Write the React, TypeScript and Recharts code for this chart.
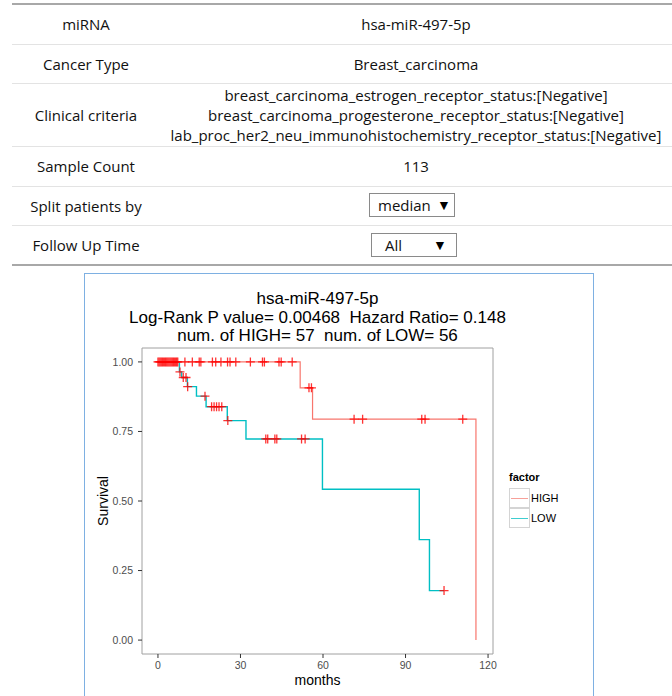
import React from "react";
import { ComposedChart, Line, Scatter, XAxis, YAxis, ReferenceArea } from "recharts";

// Kaplan-Meier step points (months, survival)
const HIGH_T = [0, 51.7, 56.2, 115.6];
const HIGH_S = [1, 0.907, 0.794, 0];
const LOW_T = [0, 7.8, 8.6, 10.7, 14.0, 17.5, 25.2, 32.0, 59.8, 95.0, 98.7, 104];
const LOW_S = [1, 0.964, 0.944, 0.911, 0.877, 0.839, 0.789, 0.723, 0.542, 0.361, 0.178, 0.178];

// censored patients (months)
const HIGH_CENSOR = [
  0, 0.4, 0.8, 1.2, 1.6, 2.0, 2.4, 2.8, 3.2, 3.6, 4.0, 4.4, 4.8, 5.2, 5.6, 6.0, 6.4, 6.8, 7.2,
  9.8, 12.5, 15.0, 15.6, 19.8, 21.0, 22.9, 25.3, 26.2, 28.3, 33.6, 38.0, 38.7, 44.0, 44.8, 48.8,
  54.9, 55.8, 71.3, 74.4, 95.9, 97.1, 110.8,
];
const LOW_CENSOR = [
  8.0, 9.2, 10.2, 10.8, 17.1, 19.5, 20.4, 21.3, 22.2, 23.2, 25.4, 39.2, 39.9, 42.5, 43.2, 52.2,
  53.5, 104,
];

const X_TICKS = [0, 30, 60, 90, 120];
const Y_TICKS = [0, 0.25, 0.5, 0.75, 1];

const TABLE_ROWS: { label: string; lines: string[]; height: number }[] = [
  { label: "miRNA", lines: ["hsa-miR-497-5p"], height: 40 },
  { label: "Cancer Type", lines: ["Breast_carcinoma"], height: 39 },
  {
    label: "Clinical criteria",
    lines: [
      "breast_carcinoma_estrogen_receptor_status:[Negative]",
      "breast_carcinoma_progesterone_receptor_status:[Negative]",
      "lab_proc_her2_neu_immunohistochemistry_receptor_status:[Negative]",
    ],
    height: 63,
  },
  { label: "Sample Count", lines: ["113"], height: 40 },
  { label: "Split patients by", lines: [], height: 39 },
  { label: "Follow Up Time", lines: [], height: 40 },
];

const HIGH_COLOR = "#F8766D";
const LOW_COLOR = "#00BFC4";

const stepLevel = (ts: number[], ss: number[], t: number) => {
  let s = ss[0];
  for (let i = 0; i < ts.length; i++) if (ts[i] <= t) s = ss[i];
  return s;
};

const highLine = HIGH_T.map((t, i) => ({ t, s: HIGH_S[i] }));
const lowLine = LOW_T.map((t, i) => ({ t, s: LOW_S[i] }));
const highMarks = HIGH_CENSOR.map((t) => ({ t, s: stepLevel(HIGH_T, HIGH_S, t) }));
const lowMarks = LOW_CENSOR.map((t) => ({ t, s: stepLevel(LOW_T, LOW_S, t) }));

const Plus = (props: any) => {
  const { cx, cy } = props;
  if (cx == null || cy == null) return null;
  return (
    <path
      d={`M${cx - 4.5},${cy}H${cx + 4.5}M${cx},${cy - 4.5}V${cy + 4.5}`}
      stroke="#ff0000"
      strokeOpacity={0.8}
      strokeWidth={1.3}
      fill="none"
    />
  );
};

const TABLE_FONT = "'Open Sans', sans-serif";
const PLOT_FONT = "'Liberation Sans', Arial, sans-serif";

const Dropdown = ({ left, top, text, textLeft, arrowLeft }: any) => (
  <div
    style={{
      position: "absolute",
      left,
      top,
      width: 86,
      height: 24,
      border: "1px solid #8a8a8a",
      background: "#fff",
      boxSizing: "border-box",
      fontSize: 15,
      lineHeight: "22px",
    }}
  >
    <span style={{ position: "absolute", left: textLeft }}>{text}</span>
    <span style={{ position: "absolute", left: arrowLeft, fontSize: 14, color: "#000" }}>▼</span>
  </div>
);

export default function App() {
  let y = 4;
  const rows = TABLE_ROWS.map((r) => {
    const top = y;
    y += r.height;
    return { ...r, top };
  });

  return (
    <div style={{ position: "relative", width: 672, height: 696, overflow: "hidden", background: "#fff" }}>
      <style>{"body{margin:0}"}</style>

      {/* info table */}
      <div style={{ position: "absolute", left: 12, top: 3, width: 660, height: 2, background: "#a8a8a8" }} />
      {rows.map((r, i) => (
        <div key={r.label} style={{ fontFamily: TABLE_FONT, color: "#111" }}>
          {i > 0 && (
            <div style={{ position: "absolute", left: 12, top: r.top, width: 660, height: 1, background: "#e3e3e3" }} />
          )}
          <div
            style={{
              position: "absolute",
              left: 12,
              top: r.top,
              width: 148,
              height: r.height,
              display: "flex",
              alignItems: "center",
              justifyContent: "center",
              fontSize: 15,
              whiteSpace: "nowrap",
            }}
          >
            {r.label}
          </div>
          <div
            style={{
              position: "absolute",
              left: 160,
              top: r.top,
              width: 512,
              height: r.height,
              display: "flex",
              flexDirection: "column",
              alignItems: "center",
              justifyContent: "center",
              fontSize: 15,
              lineHeight: "20px",
              whiteSpace: "nowrap",
            }}
          >
            {r.lines.map((l) => (
              <div key={l}>{l}</div>
            ))}
          </div>
        </div>
      ))}
      <div style={{ fontFamily: TABLE_FONT, color: "#111" }}>
        <Dropdown left={369} top={193} text="median" textLeft={8} arrowLeft={67} />
        <Dropdown left={371} top={233} text="All" textLeft={13} arrowLeft={61} />
      </div>
      <div style={{ position: "absolute", left: 12, top: 264, width: 660, height: 2, background: "#a8a8a8" }} />

      {/* plot frame */}
      <div
        style={{
          position: "absolute",
          left: 84,
          top: 273,
          width: 510,
          height: 430,
          border: "1px solid #7eb0e2",
          boxSizing: "border-box",
        }}
      />

      {/* title */}
      <div
        style={{
          position: "absolute",
          left: 67,
          top: 290,
          width: 501,
          textAlign: "center",
          fontFamily: PLOT_FONT,
          fontSize: 17,
          lineHeight: "18.6px",
          color: "#000",
          whiteSpace: "pre",
        }}
      >
        <div>hsa-miR-497-5p</div>
        <div>Log-Rank P value= 0.00468  Hazard Ratio= 0.148</div>
        <div>num. of HIGH= 57  num. of LOW= 56</div>
      </div>

      <div style={{ position: "absolute", left: 84, top: 273 }}>
        <ComposedChart width={510} height={423} margin={{ top: 75, right: 101, bottom: 0, left: 0 }}>
          <XAxis
            dataKey="t"
            type="number"
            domain={[-5.8, 121.8]}
            ticks={X_TICKS}
            allowDataOverflow
            axisLine={false}
            tickLine={{ stroke: "#333" }}
            tickSize={4}
            tickMargin={4}
            height={42}
            tick={{ fontSize: 10.5, fill: "#4d4d4d", fontFamily: PLOT_FONT }}
          />
          <YAxis
            type="number"
            domain={[-0.05, 1.05]}
            ticks={Y_TICKS}
            allowDataOverflow
            axisLine={false}
            tickLine={{ stroke: "#333" }}
            tickSize={4}
            tickMargin={5}
            width={58}
            tickFormatter={(v: number) => v.toFixed(2)}
            tick={{ fontSize: 10.5, fill: "#4d4d4d", fontFamily: PLOT_FONT }}
          />
          <ReferenceArea x1={-5.8} x2={121.8} y1={-0.05} y2={1.05} fill="none" stroke="#a0a0a0" strokeWidth={1} />
          <Line
            data={highLine}
            dataKey="s"
            type="stepAfter"
            stroke={HIGH_COLOR}
            strokeWidth={1.2}
            dot={false}
            isAnimationActive={false}
          />
          <Line
            data={lowLine}
            dataKey="s"
            type="stepAfter"
            stroke={LOW_COLOR}
            strokeWidth={1.4}
            dot={false}
            isAnimationActive={false}
          />
          <Scatter data={highMarks} dataKey="s" shape={Plus} isAnimationActive={false} />
          <Scatter data={lowMarks} dataKey="s" shape={Plus} isAnimationActive={false} />
        </ComposedChart>
      </div>

      {/* axis titles */}
      <div
        style={{
          position: "absolute",
          left: 142,
          top: 672,
          width: 351,
          textAlign: "center",
          fontFamily: PLOT_FONT,
          fontSize: 14,
          color: "#000",
        }}
      >
        months
      </div>
      <div
        style={{
          position: "absolute",
          left: 103 - 40,
          top: 501 - 9,
          width: 80,
          height: 18,
          lineHeight: "18px",
          textAlign: "center",
          transform: "rotate(-90deg)",
          fontFamily: PLOT_FONT,
          fontSize: 14,
          color: "#000",
        }}
      >
        Survival
      </div>

      {/* legend */}
      <div style={{ position: "absolute", left: 509, top: 471, fontFamily: PLOT_FONT, fontSize: 11, fontWeight: "bold" }}>
        factor
      </div>
      {[
        { label: "HIGH", color: "#f7a099", top: 488 },
        { label: "LOW", color: "#3fcdd0", top: 508 },
      ].map((k) => (
        <div key={k.label}>
          <div
            style={{
              position: "absolute",
              left: 509,
              top: k.top,
              width: 21,
              height: 20,
              border: "1px solid #d4d4d4",
              boxSizing: "border-box",
              background: "#fff",
            }}
          />
          <div style={{ position: "absolute", left: 511, top: k.top + 9.5, width: 17, height: 1.5, background: k.color }} />
          <div
            style={{
              position: "absolute",
              left: 531,
              top: k.top + 3,
              fontFamily: PLOT_FONT,
              fontSize: 11,
              lineHeight: "14px",
              color: "#000",
            }}
          >
            {k.label}
          </div>
        </div>
      ))}
    </div>
  );
}
